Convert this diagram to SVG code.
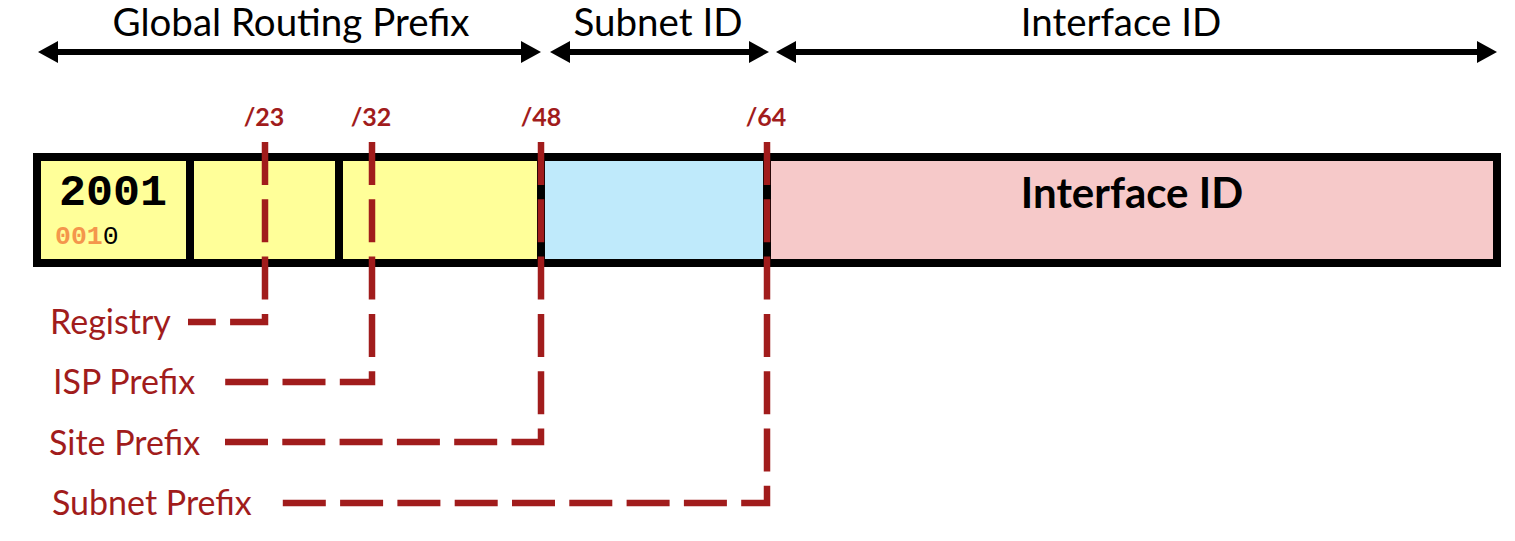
<svg xmlns="http://www.w3.org/2000/svg" width="1515" height="541" viewBox="0 0 1515 541">
<style>
.hdr{font-family:Lato,"Open Sans","Liberation Sans",sans-serif;font-size:38.5px;fill:#000;text-anchor:middle}
.arrow{stroke:#000;stroke-width:6;fill:none}
.seg{stroke:#000;stroke-width:8}
.div{stroke:#000;stroke-width:8}
.cut{font-family:Lato,"Open Sans","Liberation Sans",sans-serif;font-size:25px;font-weight:bold;fill:#A11C1C;text-anchor:middle}
.lbl{font-family:Lato,"Open Sans","Liberation Sans",sans-serif;font-size:34px;fill:#A11C1C}
.dash{stroke:#A11C1C;stroke-width:6.5;fill:none;stroke-dasharray:43 14.3}
.big{font-family:Lato,"Open Sans","Liberation Sans",sans-serif;font-size:42px;font-weight:bold;fill:#000;text-anchor:middle}
.mono{font-family:"Liberation Mono","Courier New",monospace}
</style>
<defs>
<marker id="ah" viewBox="0 0 20 22" refX="3" refY="11" markerWidth="20" markerHeight="22" markerUnits="userSpaceOnUse" orient="auto-start-reverse">
<path d="M0,0 L20,11 L0,22 z" fill="#000"/>
</marker>
</defs>

<g id="header-global">
<text class="hdr" x="291" y="36">Global Routing Prefix</text>
</g>
<g id="header-subnet">
<text class="hdr" x="658" y="36">Subnet ID</text>
</g>
<g id="header-interface">
<text class="hdr" x="1121" y="36">Interface ID</text>
</g>

<g id="bar">
<rect id="seg-global" x="37" y="157" width="504" height="106" fill="#FFFF99"/>
<rect id="seg-subnet" x="541" y="157" width="226" height="106" fill="#BFEAFB"/>
<rect id="seg-interface" x="767" y="157" width="730" height="106" fill="#F6C9C9"/>
<rect x="37" y="157" width="1460" height="106" fill="none" class="seg"/>
<line class="div" x1="190" y1="157" x2="190" y2="263"/>
<line class="div" x1="339" y1="157" x2="339" y2="263"/>
<line class="div" x1="541" y1="157" x2="541" y2="263"/>
<line class="div" x1="767" y1="157" x2="767" y2="263"/>
</g>

<g id="node-2001">
<text class="mono" x="59" y="205" font-size="45" font-weight="bold" fill="#000">2001</text>
<text class="mono" x="55" y="244" font-size="26.5"><tspan font-weight="bold" fill="#F4964C">001</tspan><tspan fill="#000">0</tspan></text>
</g>
<g id="node-interface">
<text class="big" x="1132" y="208">Interface ID</text>
</g>

<g id="cut-labels">
<text class="cut" x="264" y="126">/23</text>
<text class="cut" x="371" y="126">/32</text>
<text class="cut" x="541" y="126">/48</text>
<text class="cut" x="766" y="126">/64</text>
</g>

<g id="label-registry"><text class="lbl" x="50" y="334">Registry</text></g>
<g id="label-isp"><text class="lbl" x="53" y="394">ISP Prefix</text></g>
<g id="label-site"><text class="lbl" x="49" y="455">Site Prefix</text></g>
<g id="label-subnet"><text class="lbl" x="52" y="515">Subnet Prefix</text></g>

<g id="connectors">
<line class="arrow" x1="55" y1="52" x2="524" y2="52" marker-start="url(#ah)" marker-end="url(#ah)"/>
<line class="arrow" x1="567" y1="52" x2="752" y2="52" marker-start="url(#ah)" marker-end="url(#ah)"/>
<line class="arrow" x1="793" y1="52" x2="1480" y2="52" marker-start="url(#ah)" marker-end="url(#ah)"/>
<path class="dash" d="M265,142 V322 H188"/>
<path class="dash" d="M372,142 V382 H225"/>
<path class="dash" d="M541,142 V442 H225"/>
<path class="dash" d="M767,142 V503 H282"/>
</g>
</svg>
